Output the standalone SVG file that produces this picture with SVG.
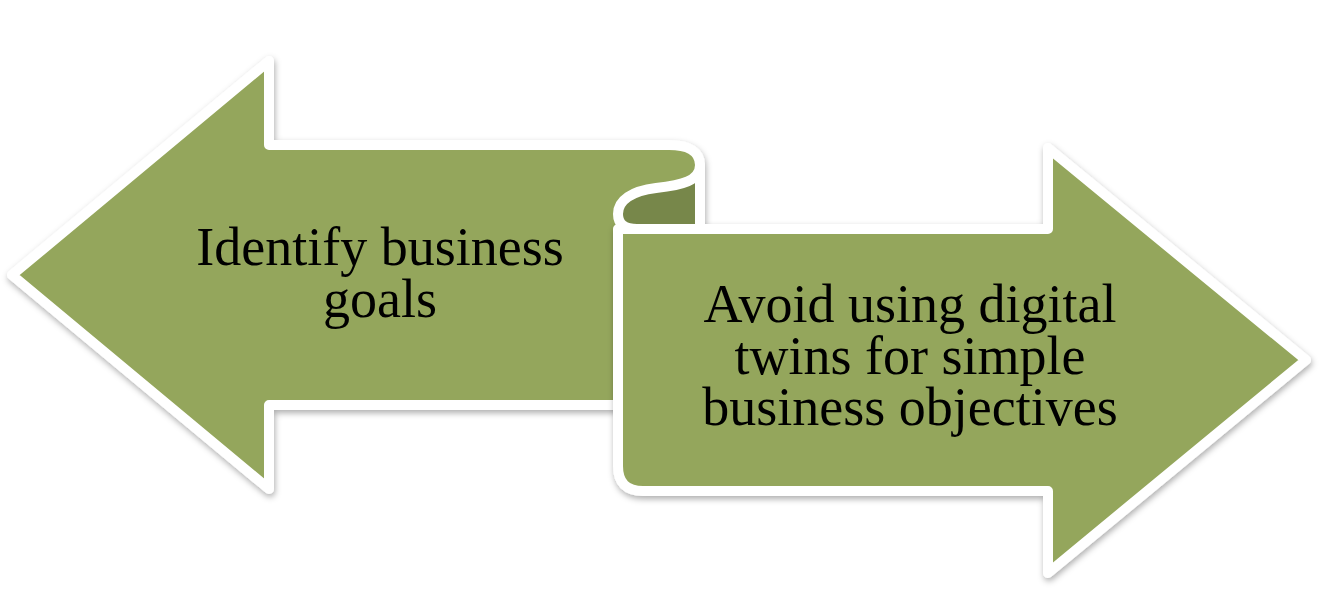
<svg xmlns="http://www.w3.org/2000/svg" width="1320" height="606" viewBox="0 0 1320 606">
  <style>
    .shape { fill: #94A65B; stroke: #FFFFFF; stroke-width: 10; stroke-linejoin: round; }
    .roll { fill: #77874A; stroke: #FFFFFF; stroke-width: 10; stroke-linejoin: round; }
    .label { font-family: "Liberation Serif", "DejaVu Serif", serif; font-size: 54px; fill: #000000; text-anchor: middle; }
  </style>
  <defs>
    <filter id="shadow" x="-5%" y="-5%" width="110%" height="115%">
      <feDropShadow dx="1" dy="3" stdDeviation="3" flood-color="#000000" flood-opacity="0.32"/>
    </filter>
  </defs>
  <rect width="1320" height="606" fill="#FFFFFF"/>
  <g id="left-arrow">
    <path class="shape" filter="url(#shadow)" d="M12,275 L269,61 L269,145 L669,145 C690,145 700,153 700,165 L700,405 L269,405 L269,489 Z"/>
    <text class="label" x="380" y="265">Identify business</text>
    <text class="label" x="380" y="316.5">goals</text>
  </g>
  <g id="right-arrow">
    <path class="shape" filter="url(#shadow)" d="M618,229 L1048,229 L1048,148 L1306,360 L1048,573 L1048,491 L643,491 Q618,491 618,466 Z"/>
    <path class="roll" d="M700,165 C700,181 682,185 656,188 C632,191 618,200 618,214 Q618,229 637,229 L700,229 Z"/>
    <text class="label" x="910" y="322">Avoid using digital</text>
    <text class="label" x="910" y="373.5">twins for simple</text>
    <text class="label" x="910" y="425">business objectives</text>
  </g>
  <g id="connectors"></g>
</svg>
